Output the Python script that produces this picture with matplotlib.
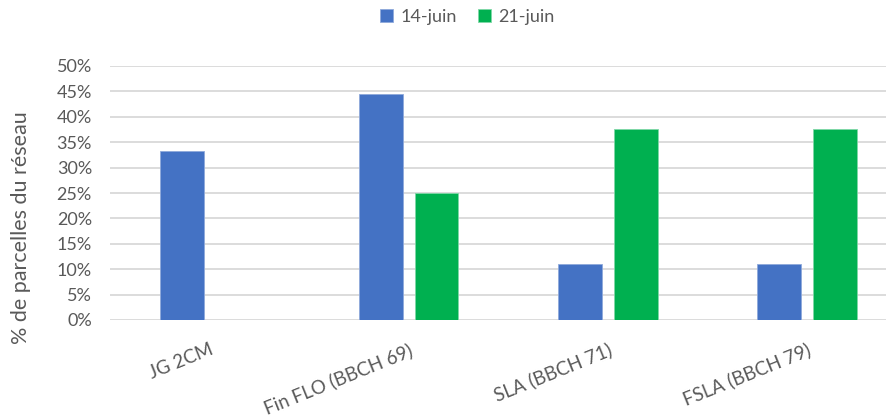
import matplotlib.pyplot as plt
import numpy as np
from matplotlib.ticker import PercentFormatter

# ---------- données ----------
categories = ["JG 2CM", "Fin FLO (BBCH 69)", "SLA (BBCH 71)", "FSLA (BBCH 79)"]
juin_14 = [0.333, 0.444, 0.111, 0.111]
juin_21 = [np.nan, 0.25, 0.375, 0.375]
series_names = ["14-juin", "21-juin"]
y_ticks = np.arange(0, 0.51, 0.05)

BLUE = "#4472C4"
GREEN = "#00B050"
TXT = "#595959"
GRID = "#D9D9D9"

plt.rcParams['font.family'] = ['Lato', 'DejaVu Sans']

# ---------- figure ----------
fig = plt.figure(figsize=(8.87, 4.19), dpi=100)
ax = fig.add_axes([110 / 887, 1 - 320 / 419, 1 - 110 / 887, (320 - 66) / 419])

x = np.arange(len(categories))
w = 0.22
off = 0.14
ax.bar(x - off, juin_14, w, color=BLUE, edgecolor="#8EA9DB", linewidth=0.6,
       label=series_names[0], zorder=3)
ax.bar(x + off, juin_21, w, color=GREEN, edgecolor="#7FD8A7", linewidth=0.6,
       label=series_names[1], zorder=3)

# axes
ax.set_xlim(-0.5, (887 - 210) / 199)
ax.set_ylim(0, 0.5)
ax.set_yticks(y_ticks)
ax.yaxis.set_major_formatter(PercentFormatter(1.0, decimals=0))
ax.grid(axis='y', color=GRID, linewidth=1.3, zorder=0)
for s in ax.spines.values():
    s.set_visible(False)

ax.set_xticks(x)
ax.set_xticklabels(categories, rotation=22, ha='right', va='top',
                   rotation_mode='anchor')
ax.tick_params(axis='x', length=0, pad=15, labelsize=13.5, labelcolor=TXT)
ax.tick_params(axis='y', length=0, pad=13, labelsize=13, labelcolor=TXT)

ax.set_ylabel("% de parcelles du réseau", fontsize=15.5, color=TXT)
ax.yaxis.set_label_coords(31 / 887, 1 - 228 / 419, transform=fig.transFigure)

# légende
fig.legend(loc='center', bbox_to_anchor=(0.527, 0.96), ncol=2, frameon=False,
           fontsize=13, labelcolor=TXT, handlelength=0.7, handleheight=0.7,
           handletextpad=0.4, columnspacing=1.2)

fig.savefig("out.png", dpi=100)
